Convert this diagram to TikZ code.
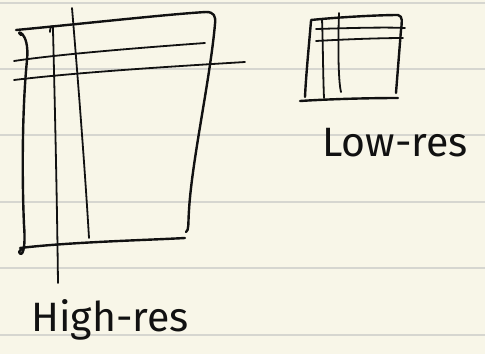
\documentclass[tikz,border=0pt]{standalone}
\usepackage{fontspec}
\setmainfont{Fira Sans}
\usetikzlibrary{positioning}

\definecolor{paper}{HTML}{F8F6E8}
\definecolor{rule}{HTML}{D6D6D0}
\definecolor{ink}{HTML}{111111}

\begin{document}
\begin{tikzpicture}[x=1pt, y=-1pt, line width=2.4pt, line cap=round, line join=round,
    pen/.style={draw=ink},
    thinpen/.style={draw=ink, line width=1.8pt},
    hand/.style={text=ink, font=\fontsize{41}{41}\selectfont, inner sep=0pt}]
            % Sheet of ruled paper
            \fill[paper] (0,0) rectangle (485,354);
            \useasboundingbox (0,0) rectangle (485,354);
            \foreach \y in {3,69,135,202,268,335}
                \draw[rule, line width=1.2pt] (0,\y) -- (485,\y);

            % High-res frame
            \draw[pen] (16,30) .. controls (80,24) and (170,14) .. (206,12)
                .. controls (214,12) and (216,16) .. (215,24)
                .. controls (210,80) and (192,160) .. (189,210)
                .. controls (188,225) and (189,230) .. (186,232);
            \draw[pen] (20,248) .. controls (70,242) and (150,240) .. (185,238);
            \draw[pen] (21,35) .. controls (14,30) and (30,30) .. (27,60)
                .. controls (22,110) and (22,180) .. (24,225)
                .. controls (26,250) and (22,258) .. (19,252) -- (22,248);

            % High-res grid lines
            \draw[thinpen] (14,61) .. controls (60,54) and (150,47) .. (205,43);
            \draw[thinpen] (14,80) .. controls (80,72) and (180,66) .. (245,62);
            \draw[thinpen] (50,32) .. controls (50,25) and (54,24) .. (53,30)
                .. controls (55,110) and (57,200) .. (58,283);
            \draw[thinpen] (72,8) .. controls (78,80) and (85,170) .. (89,238);

            % Low-res frame
            \draw[pen] (311,20) .. controls (340,17) and (380,15) .. (398,15)
                .. controls (403,16) and (402,22) .. (401,30)
                .. controls (399,55) and (397,80) .. (396,93);
            \draw[pen] (300,101) .. controls (330,99) and (370,98) .. (398,98);
            \draw[pen] (311,21) .. controls (309,45) and (306,75) .. (305,97);

            % Low-res grid lines
            \draw[thinpen] (316,29) .. controls (350,28) and (385,27) .. (405,28);
            \draw[thinpen] (316,41) .. controls (350,39) and (385,38) .. (403,38);
            \draw[thinpen] (322,19) .. controls (323,45) and (323,75) .. (324,98);
            \draw[thinpen] (339,13) .. controls (338,40) and (338,80) .. (341,92);

            % Labels
            \node[hand] (highres) at (110,320) {High-res};
            \node[hand] (lowres) at (395,143) {Low-res};
\end{tikzpicture}
\end{document}
